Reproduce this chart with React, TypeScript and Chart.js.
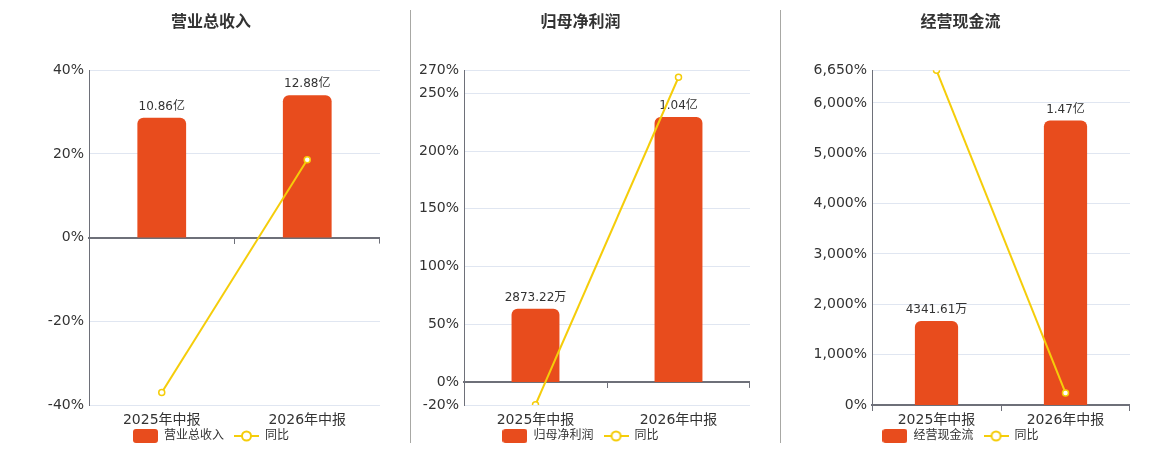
import { useEffect, useRef } from "react";
import Chart from "chart.js/auto";

// 报告期
const categories = ["2025年中报", "2026年中报"];

// 营业总收入 (亿) 与同比 (%)
const revenueValues = [10.86, 12.88];
const revenueLabels = ["10.86亿", "12.88亿"];
const revenueYoy = [-37.0, 18.6];
const revenueTicks = [-40, -20, 0, 20, 40];

// 归母净利润 (亿) 与同比 (%)
const profitValues = [0.287322, 1.04];
const profitLabels = ["2873.22万", "1.04亿"];
const profitYoy = [-19.8, 263.9];
const profitTicks = [-20, 0, 50, 100, 150, 200, 250, 270];

// 经营现金流 (亿) 与同比 (%)
const cashValues = [0.434161, 1.47];
const cashLabels = ["4341.61万", "1.47亿"];
const cashYoy = [6648, 238.6];
const cashTicks = [0, 1000, 2000, 3000, 4000, 5000, 6000, 6650];

const BAR_COLOR = "#e84c1d";
const LINE_COLOR = "#f5cd0a";
const AXIS_COLOR = "#6e7079";
const GRID_COLOR = "#e0e6f1";
const TEXT_COLOR = "#333";
const FONT = "'DejaVu Sans', 'Noto Sans CJK SC', sans-serif";

Chart.defaults.font.family = FONT;

function makeBarIcon() {
  const c = document.createElement("canvas");
  c.width = 25;
  c.height = 14;
  const g = c.getContext("2d")!;
  g.fillStyle = BAR_COLOR;
  g.beginPath();
  g.roundRect(0, 0, 25, 14, 3);
  g.fill();
  return c;
}

function makeLineIcon() {
  const c = document.createElement("canvas");
  c.width = 25;
  c.height = 14;
  const g = c.getContext("2d")!;
  g.strokeStyle = LINE_COLOR;
  g.lineWidth = 2;
  g.beginPath();
  g.moveTo(0, 7);
  g.lineTo(25, 7);
  g.stroke();
  g.beginPath();
  g.arc(12.5, 7, 4.5, 0, Math.PI * 2);
  g.fillStyle = "#fff";
  g.fill();
  g.stroke();
  return c;
}

// value text above each bar, drawn before the line so the line sits on top
const barLabelPlugin = {
  id: "barLabels",
  afterDatasetDraw(chart: any, args: any, opts: any) {
    if (args.index !== 0) return;
    const ctx = chart.ctx;
    ctx.save();
    ctx.font = `12px ${FONT}`;
    ctx.fillStyle = TEXT_COLOR;
    ctx.textAlign = "center";
    ctx.textBaseline = "bottom";
    args.meta.data.forEach((el: any, i: number) => {
      ctx.fillText(opts.labels[i], el.x, el.y - 5);
    });
    ctx.restore();
  },
};

// legend sits tight under the category labels
const legendShiftPlugin = {
  id: "legendShift",
  afterLayout(chart: any) {
    const l = chart.legend;
    if (!l) return;
    l.top -= 9;
    l.bottom -= 9;
  },
};

// the closing tick at the right end of the zero axis
const endTickPlugin = {
  id: "endTick",
  afterDraw(chart: any) {
    const x = chart.scales.x2;
    const y = chart.scales.y.getPixelForValue(0);
    const ctx = chart.ctx;
    ctx.save();
    ctx.strokeStyle = AXIS_COLOR;
    ctx.lineWidth = 1;
    ctx.beginPath();
    ctx.moveTo(Math.round(x.right) - 0.5, y);
    ctx.lineTo(Math.round(x.right) - 0.5, y + 6);
    ctx.stroke();
    ctx.restore();
  },
};

interface PanelProps {
  title: string;
  seriesName: string;
  values: number[];
  valueLabels: string[];
  yoy: number[];
  ticks: number[];
  left: number;
  width: number;
  axisWidth: number;
}

const Panel = ({ title, seriesName, values, valueLabels, yoy, ticks, left, width, axisWidth }: PanelProps) => {
  const canvasRef = useRef<HTMLCanvasElement>(null);

  useEffect(() => {
    if (!canvasRef.current) return;
    const ctx = canvasRef.current.getContext("2d");
    if (!ctx) return;

    const lo = ticks[0];
    const hi = ticks[ticks.length - 1];
    const barMax = Math.max(...values) / 0.85;
    const barMin = lo < 0 ? (lo / hi) * barMax : 0;
    const barIcon = makeBarIcon();
    const lineIcon = makeLineIcon();

    const chart = new Chart(ctx, {
      type: "bar",
      data: {
        labels: categories,
        datasets: [
          {
            type: "bar",
            label: seriesName,
            data: values,
            yAxisID: "y1",
            backgroundColor: BAR_COLOR,
            borderRadius: { topLeft: 6, topRight: 6, bottomLeft: 0, bottomRight: 0 },
            borderSkipped: false,
            barPercentage: 0.335,
            categoryPercentage: 1,
            order: 1,
          },
          {
            type: "line",
            label: "同比",
            data: yoy,
            yAxisID: "y",
            borderColor: LINE_COLOR,
            borderWidth: 2,
            pointRadius: 3,
            pointBackgroundColor: "#fff",
            pointBorderColor: LINE_COLOR,
            pointBorderWidth: 1.5,
            order: 0,
          },
        ] as any,
      },
      options: {
        responsive: true,
        maintainAspectRatio: false,
        animation: false,
        layout: { autoPadding: false, padding: { left: 0, right: 0, top: 0, bottom: 2 } },
        scales: {
          x: {
            grid: { display: false, drawTicks: false },
            border: { display: false },
            ticks: { color: TEXT_COLOR, font: { size: 14 }, padding: 7 },
            afterFit: (s: any) => {
              s.height = 24;
            },
          },
          x2: {
            type: "category",
            axis: "x",
            position: { y: 0 },
            offset: true,
            grid: {
              display: true,
              offset: true,
              drawOnChartArea: false,
              drawTicks: true,
              tickLength: 5,
              color: AXIS_COLOR,
              lineWidth: 1,
            },
            border: { display: true, color: AXIS_COLOR, width: 2 },
            ticks: { display: false },
          },
          y: {
            min: lo,
            max: hi,
            grid: { color: GRID_COLOR, drawTicks: false },
            border: { display: true, color: AXIS_COLOR, width: 1 },
            ticks: {
              color: TEXT_COLOR,
              font: { size: 14 },
              padding: 5,
              callback: (v: any) => `${Number(v).toLocaleString("en-US")}%`,
            },
            afterBuildTicks: (s: any) => {
              s.ticks = ticks.map((v) => ({ value: v }));
            },
            afterFit: (s: any) => {
              s.width = axisWidth;
            },
          },
          y1: {
            display: false,
            min: barMin,
            max: barMax,
            grid: { display: false },
          },
        } as any,
        plugins: {
          title: {
            display: true,
            text: title,
            color: TEXT_COLOR,
            font: { size: 16, weight: "bold" },
            padding: { top: 13, bottom: 38 },
          },
          legend: {
            position: "bottom",
            labels: {
              usePointStyle: true,
              pointStyleWidth: 25,
              padding: 10,
              color: TEXT_COLOR,
              font: { size: 12 },
              generateLabels: () =>
                [
                  { text: seriesName, pointStyle: barIcon, datasetIndex: 0, hidden: false, lineWidth: 0, fontColor: TEXT_COLOR },
                  { text: "同比", pointStyle: lineIcon, datasetIndex: 1, hidden: false, lineWidth: 0, fontColor: TEXT_COLOR },
                ] as any,
            },
          },
          tooltip: { enabled: false },
          barLabels: { labels: valueLabels },
        } as any,
      },
      plugins: [barLabelPlugin, legendShiftPlugin, endTickPlugin],
    });

    return () => chart.destroy();
  }, [title, seriesName, values, valueLabels, yoy, ticks, axisWidth]);

  return (
    <div style={{ position: "absolute", left, top: 0, width, height: 463 }}>
      <canvas ref={canvasRef}></canvas>
    </div>
  );
};

const App = () => {
  return (
    <div
      style={{
        position: "absolute",
        left: 0,
        top: 0,
        width: 1160,
        height: 450,
        overflow: "hidden",
        background: "#fff",
      }}
    >
      <Panel
        title="营业总收入"
        seriesName="营业总收入"
        values={revenueValues}
        valueLabels={revenueLabels}
        yoy={revenueYoy}
        ticks={revenueTicks}
        left={42}
        width={338}
        axisWidth={47}
      />
      <div style={{ position: "absolute", left: 410, top: 10, width: 1, height: 433, background: "#a8a8a4" }} />
      <Panel
        title="归母净利润"
        seriesName="归母净利润"
        values={profitValues}
        valueLabels={profitLabels}
        yoy={profitYoy}
        ticks={profitTicks}
        left={411}
        width={339}
        axisWidth={53}
      />
      <div style={{ position: "absolute", left: 780, top: 10, width: 1, height: 433, background: "#a8a8a4" }} />
      <Panel
        title="经营现金流"
        seriesName="经营现金流"
        values={cashValues}
        valueLabels={cashLabels}
        yoy={cashYoy}
        ticks={cashTicks}
        left={791}
        width={339}
        axisWidth={81}
      />
    </div>
  );
};

export default App;
